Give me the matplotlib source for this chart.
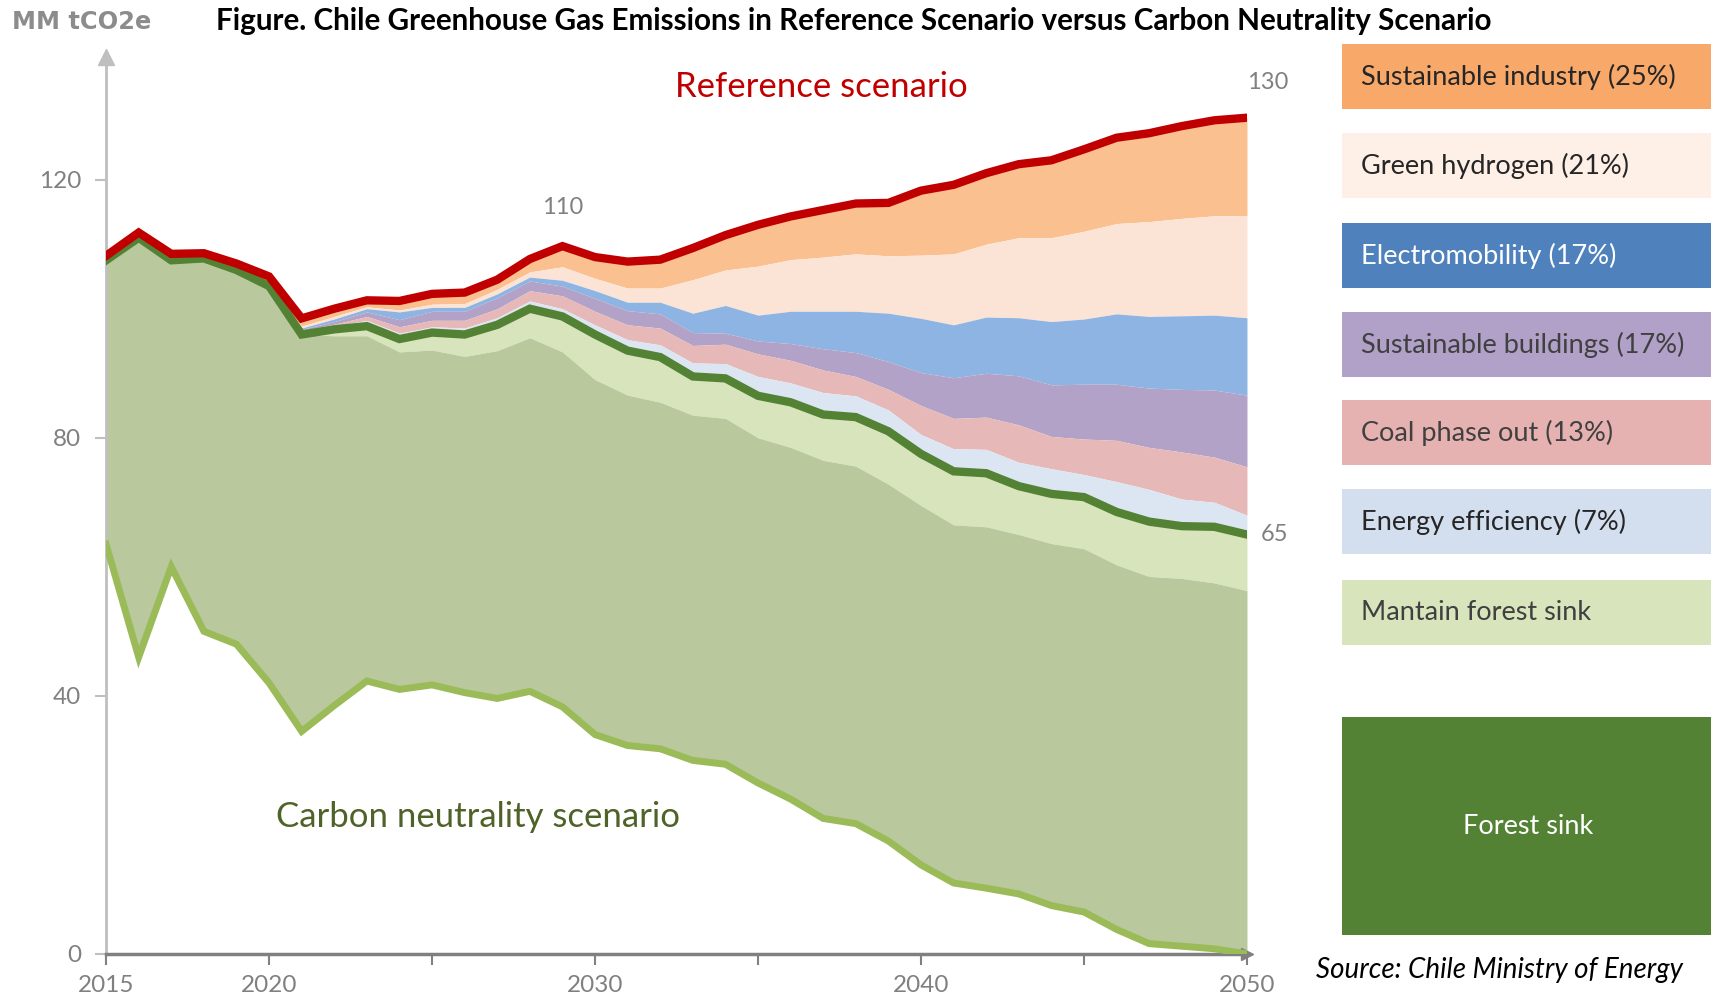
import numpy as np
import matplotlib
matplotlib.use('Agg')
import matplotlib.pyplot as plt
from matplotlib.patches import Rectangle

plt.rcParams['font.family'] = ['Lato', 'DejaVu Sans']

years = np.arange(2015, 2051)

# reference scenario (top red line)
reference = [108.2, 111.8, 108.5, 108.6, 107.0, 105.0, 98.5, 100.0, 101.3, 101.2,
             102.3, 102.5, 104.5, 107.7, 109.7, 108.0, 107.3, 107.6, 109.4, 111.4,
             113.0, 114.3, 115.3, 116.3, 116.4, 118.3, 119.2, 121.0, 122.4, 123.0,
             124.7, 126.5, 127.2, 128.3, 129.2, 129.6]
# carbon neutrality scenario (dark green line)
neutrality = [107.5, 111.0, 107.5, 107.8, 106.0, 103.5, 96.0, 96.8, 97.3, 95.3,
              96.3, 96.0, 97.5, 100.0, 98.8, 96.0, 93.5, 92.5, 89.5, 89.2,
              86.5, 85.5, 83.6, 83.2, 81.0, 77.5, 74.8, 74.5, 72.5, 71.3,
              70.8, 68.5, 67.0, 66.3, 66.2, 65.0]
# top of the olive band (without maintained forest sink)
olive_top = [107.5, 111.0, 107.5, 107.8, 106.0, 103.5, 96.0, 95.8, 95.8, 93.3,
             93.6, 92.6, 93.5, 95.5, 93.3, 89.0, 86.6, 85.5, 83.5, 83.0,
             80.0, 78.5, 76.5, 75.6, 72.8, 69.5, 66.5, 66.2, 65.0, 63.6,
             62.8, 60.3, 58.5, 58.2, 57.5, 56.3]
# net line (light green, forest sink)
forest_net = [63.5, 46.0, 60.0, 50.0, 48.0, 42.0, 34.5, 38.5, 42.3, 41.0,
              41.7, 40.5, 39.6, 40.7, 38.3, 34.0, 32.3, 31.8, 30.0, 29.4,
              26.5, 24.0, 21.0, 20.2, 17.5, 13.8, 11.0, 10.2, 9.3, 7.5,
              6.5, 3.8, 1.6, 1.2, 0.8, 0.0]
# cumulative tops of each mitigation measure
eff_top = [107.5, 111.0, 107.5, 107.8, 106.0, 103.5, 96.3, 97.3, 98.2, 96.2,
           97.2, 97.0, 98.6, 101.2, 100.0, 97.5, 95.2, 94.4, 91.6, 91.5,
           89.5, 88.5, 87.0, 86.5, 84.3, 80.5, 78.3, 78.2, 76.2, 75.2,
           74.3, 73.2, 72.0, 70.5, 70.0, 68.0]
coal_top = [107.5, 111.0, 107.5, 107.8, 106.0, 103.5, 96.6, 97.6, 98.8, 97.2,
            98.2, 98.2, 100.0, 102.8, 102.0, 99.6, 97.5, 97.0, 94.3, 94.5,
            93.0, 92.0, 90.5, 89.5, 87.5, 85.0, 83.0, 83.2, 82.0, 80.2,
            79.8, 79.6, 78.5, 77.8, 77.0, 75.5]
build_top = [107.5, 111.0, 107.5, 107.8, 106.0, 103.5, 96.8, 98.0, 99.5, 98.3,
             99.6, 99.6, 101.7, 104.3, 103.5, 101.6, 99.7, 99.2, 96.3, 96.2,
             95.0, 94.6, 93.8, 93.2, 91.8, 90.1, 89.3, 90.0, 89.6, 88.2,
             88.3, 88.3, 87.7, 87.5, 87.4, 86.6]
emob_top = [107.5, 111.0, 107.5, 107.8, 106.0, 103.5, 97.0, 98.4, 100.0, 99.5,
            100.2, 100.2, 102.3, 104.9, 104.4, 102.8, 101.0, 101.0, 99.3, 100.5,
            99.0, 99.6, 99.6, 99.6, 99.3, 98.5, 97.5, 98.7, 98.6, 98.0,
            98.4, 99.2, 98.8, 98.9, 99.0, 98.6]
h2_top = [107.5, 111.0, 107.5, 107.8, 106.0, 103.5, 97.3, 98.8, 100.3, 99.8,
          100.7, 100.8, 103.0, 105.7, 106.5, 104.7, 103.2, 103.2, 104.5, 106.0,
          106.6, 107.6, 108.0, 108.5, 108.2, 108.3, 108.5, 110.0, 111.0, 111.0,
          112.0, 113.2, 113.5, 114.0, 114.4, 114.4]

legend_labels = ['Sustainable industry (25%)', 'Green hydrogen (21%)', 'Electromobility (17%)',
                 'Sustainable buildings (17%)', 'Coal phase out (13%)', 'Energy efficiency (7%)',
                 'Mantain forest sink']

area_colors = ['#fac090', '#fbe4d5', '#8db4e2', '#b3a2c7', '#e6b8b7', '#dce6f2', '#d8e4bc']
box_colors = ['#f8a96a', '#fef0e6', '#4f81bd', '#b1a0c7', '#e6b2b1', '#d3dfee', '#d8e4bc']
text_colors = ['#262626', '#262626', 'white', '#404040', '#404040', '#262626', '#404040']

fig = plt.figure(figsize=(17.11, 10.01), dpi=100)
ax = fig.add_axes([0.062, 0.047, 0.6668, 0.896])

# bands, top to bottom
bounds = [reference, h2_top, emob_top, build_top, coal_top, eff_top, neutrality, olive_top]
for i in range(7):
    ax.fill_between(years, bounds[i + 1], bounds[i], color=area_colors[i], lw=0)
ax.fill_between(years, forest_net, olive_top, color='#b9c99d', lw=0)

ax.plot(years, forest_net, color='#9bbb59', lw=5, solid_joinstyle='miter', zorder=5)
ax.plot(years, neutrality, color='#548235', lw=6, solid_joinstyle='miter', zorder=5)
ax.plot(years, reference, color='#c00000', lw=6, solid_joinstyle='miter', zorder=6)

ax.set_xlim(2015, 2050)
ax.set_ylim(0, 139)
for s in ['top', 'right']:
    ax.spines[s].set_visible(False)
ax.spines['left'].set_color('#bfbfbf')
ax.spines['left'].set_linewidth(2)
ax.spines['bottom'].set_color('#808080')
ax.spines['bottom'].set_linewidth(2.5)
ax.plot(0, 1, '^', color='#bfbfbf', ms=11, transform=ax.transAxes, clip_on=False)
ax.plot(1, 0, '>', color='#808080', ms=9, transform=ax.transAxes, clip_on=False, zorder=4)

ax.set_yticks([0, 40, 80, 120])
ax.set_xticks([2015, 2020, 2025, 2030, 2035, 2040, 2045, 2050])
ax.set_xticklabels(['2015', '2020', '', '2030', '', '2040', '', '2050'])
ax.tick_params(axis='y', colors='#bfbfbf', labelcolor='#808080', labelsize=17.5, length=8, width=1.5, pad=10)
ax.tick_params(axis='x', colors='#808080', labelcolor='#808080', labelsize=17.5, length=8, width=1.5, pad=7)

ax.annotate('110', (2029, reference[14]), xytext=(0, 20), textcoords='offset points',
            ha='center', va='bottom', fontsize=17, color='#808080')
ax.annotate('130', (2050, reference[-1]), xytext=(0, 18), textcoords='offset points',
            ha='left', va='bottom', fontsize=17, color='#808080')
ax.annotate('65', (2050, neutrality[-1]), xytext=(10, 0), textcoords='offset points',
            ha='left', va='center', fontsize=17, color='#808080')

ax.text(2036.95, 134.3, 'Reference scenario', color='#c00000', fontsize=25, ha='center', va='center')
ax.text(2026.4, 21.3, 'Carbon neutrality scenario', color='#4f6228', fontsize=25, ha='center', va='center')

fig.text(0.499, 0.979, 'Figure. Chile Greenhouse Gas Emissions in Reference Scenario versus Carbon Neutrality Scenario',
         ha='center', va='center', fontsize=21.3, fontweight='bold', color='black')
fig.text(0.007, 0.978, 'MM tCO2e', ha='left', va='center', fontsize=17.4, fontweight='bold',
         color='#8c8c8c', family=['DejaVu Sans'])

# legend boxes on the right
box_tops = [44, 133, 223, 312, 400, 489, 580]
box_h = 65
W, H = 1711, 1001
for i, lab in enumerate(legend_labels):
    y0 = 1 - (box_tops[i] + box_h) / H
    fig.patches.append(Rectangle((1342 / W, y0), (W - 1342) / W, box_h / H,
                                 transform=fig.transFigure, color=box_colors[i], lw=0))
    fig.text(1361 / W, y0 + box_h / H / 2, lab, ha='left', va='center', fontsize=19.5, color=text_colors[i])

fs_y0 = 1 - 935 / H
fig.patches.append(Rectangle((1342 / W, fs_y0), (W - 1342) / W, (935 - 717) / H,
                             transform=fig.transFigure, color='#548235', lw=0))
fig.text(1528 / W, 1 - 826 / H, 'Forest sink', ha='center', va='center', fontsize=19.5, color='white')

fig.text(1499 / W, 1 - 970 / H, 'Source: Chile Ministry of Energy', ha='center', va='center',
         fontsize=20, style='italic', color='black')

fig.savefig('out.png', dpi=100)
